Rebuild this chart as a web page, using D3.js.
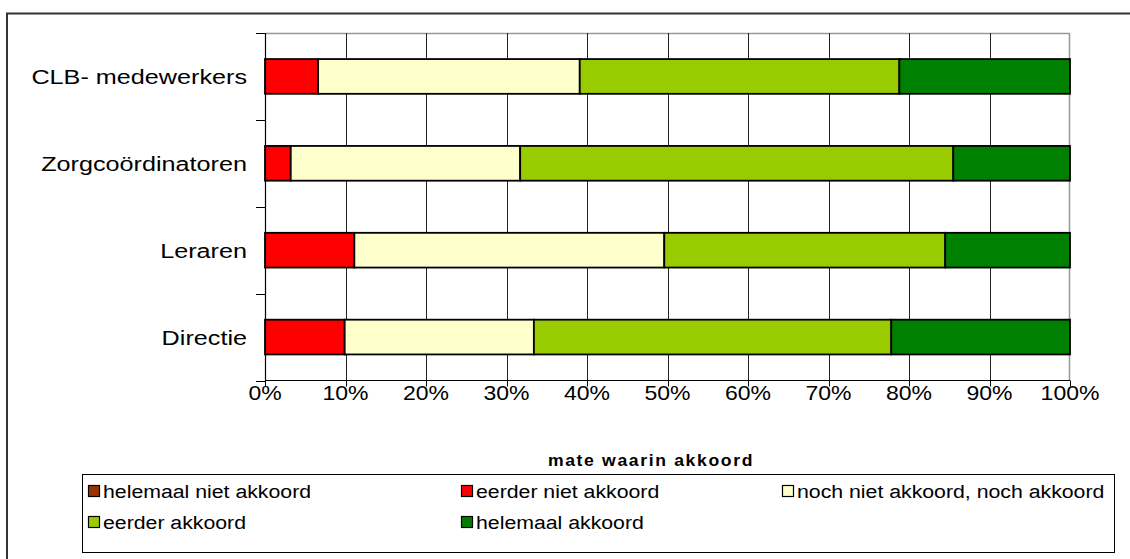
<!DOCTYPE html>
<html><head><meta charset="utf-8">
<script src="https://cdn.jsdelivr.net/npm/d3@7"></script>
<style>html,body{margin:0;padding:0;background:#fff;}svg{display:block;font-family:"Liberation Sans",Arial,sans-serif;}</style>
</head><body>
<svg id="c" width="1130" height="559"></svg>
<script>
const categories = ["CLB- medewerkers", "Zorgcoördinatoren", "Leraren", "Directie"];
const seriesNames = ["helemaal niet akkoord", "eerder niet akkoord", "noch niet akkoord, noch akkoord", "eerder akkoord", "helemaal akkoord"];
const helemaalNietAkkoord = [0, 0, 0, 0];
const eerderNietAkkoord = [6.6, 3.2, 11.1, 9.9];
const nochNoch = [32.5, 28.5, 38.5, 23.5];
const eerderAkkoord = [39.7, 53.8, 34.9, 44.4];
const helemaalAkkoord = [21.2, 14.5, 15.5, 22.2];
const tickValues = [0, 10, 20, 30, 40, 50, 60, 70, 80, 90, 100];
const colors = ["#993300", "#FF0000", "#FFFFCC", "#99CC00", "#008000"];
const axisTitle = "mate waarin akkoord";

const svg = d3.select("#c");

// outer frame
svg.append("rect").attr("x", 7).attr("y", 13.5).attr("width", 1140).attr("height", 560)
  .attr("fill", "none").attr("stroke", "#333").attr("stroke-width", 2);

const L = 265, R = 1070, T = 33, B = 380.5;
const x = d3.scaleLinear().domain([0, 100]).range([L, R]);
const y = d3.scaleBand().domain(categories).range([T, B]).paddingInner(0.6).paddingOuter(0.3);

// plot area border (gray top/right)
svg.append("path").attr("d", `M${L},${T + 0.5}H${R - 0.5}V${B}`).attr("fill", "none").attr("stroke", "#999").attr("stroke-width", 1.5);

// vertical gridlines
svg.append("g").selectAll("line").data(tickValues.slice(1, -1)).join("line")
  .attr("x1", d => Math.round(x(d)) + 0.5).attr("x2", d => Math.round(x(d)) + 0.5)
  .attr("y1", T).attr("y2", B).attr("stroke", "#222").attr("stroke-width", 1);

// stacked bars
const rows = categories.map((c, i) => ({
  cat: c, s0: helemaalNietAkkoord[i], s1: eerderNietAkkoord[i], s2: nochNoch[i], s3: eerderAkkoord[i], s4: helemaalAkkoord[i]
}));
const stack = d3.stack().keys(["s0", "s1", "s2", "s3", "s4"])(rows);
svg.append("g").selectAll("g").data(stack).join("g")
  .attr("fill", (d, i) => colors[i])
  .selectAll("rect").data(d => d.filter(p => p[1] - p[0] > 0)).join("rect")
  .attr("x", d => x(d[0])).attr("width", d => x(d[1]) - x(d[0]))
  .attr("y", d => y(d.data.cat)).attr("height", y.bandwidth())
  .attr("stroke", "#000").attr("stroke-width", 1.8);

// left axis
svg.append("line").attr("x1", L + 0.5).attr("x2", L + 0.5).attr("y1", T).attr("y2", B).attr("stroke", "#000").attr("stroke-width", 1.2);
const bounds = d3.range(categories.length + 1).map(i => T + i * y.step());
svg.append("g").selectAll("line").data(bounds).join("line")
  .attr("x1", L - 9).attr("x2", L).attr("y1", d => Math.round(d) + 0.5).attr("y2", d => Math.round(d) + 0.5)
  .attr("stroke", "#000");
svg.append("g").selectAll("text").data(categories).join("text")
  .attr("transform", d => `translate(247,${y(d) + y.bandwidth() / 2 + 7.5}) scale(1.2,1)`)
  .attr("text-anchor", "end").attr("font-size", 21).attr("fill", "#000").text(d => d);

// bottom axis
svg.append("line").attr("x1", L).attr("x2", R).attr("y1", B).attr("y2", B).attr("stroke", "#000").attr("stroke-width", 1.2);
svg.append("g").selectAll("line").data(tickValues).join("line")
  .attr("x1", d => Math.round(x(d)) + 0.5).attr("x2", d => Math.round(x(d)) + 0.5)
  .attr("y1", B).attr("y2", B + 6).attr("stroke", "#000");
svg.append("g").selectAll("text").data(tickValues).join("text")
  .attr("transform", d => `translate(${x(d)},400) scale(1.15,1)`)
  .attr("text-anchor", "middle").attr("font-size", 20).attr("fill", "#000").text(d => d + "%");

svg.append("text").attr("transform", `translate(651,466) scale(1.1,1)`)
  .attr("text-anchor", "middle").attr("font-size", 16).attr("font-weight", "bold")
  .attr("letter-spacing", 1.5).attr("fill", "#000").text(axisTitle);

// legend
const lg = svg.append("g");
lg.append("rect").attr("x", 82.5).attr("y", 474.5).attr("width", 1032).attr("height", 78)
  .attr("fill", "#fff").attr("stroke", "#000").attr("stroke-width", 1);
const legendPos = [[88, 498], [461, 498], [782, 498], [88, 529], [461, 529]];
seriesNames.forEach((n, i) => {
  const [lx, ly] = legendPos[i];
  lg.append("rect").attr("x", lx + 0.5).attr("y", ly - 12.5).attr("width", 11).attr("height", 11)
    .attr("fill", colors[i]).attr("stroke", "#000").attr("stroke-width", 1.2);
  lg.append("text").attr("transform", `translate(${lx + 15},${ly}) scale(1.12,1)`)
    .attr("font-size", 19).attr("fill", "#000").text(n);
});
</script>
</body></html>
